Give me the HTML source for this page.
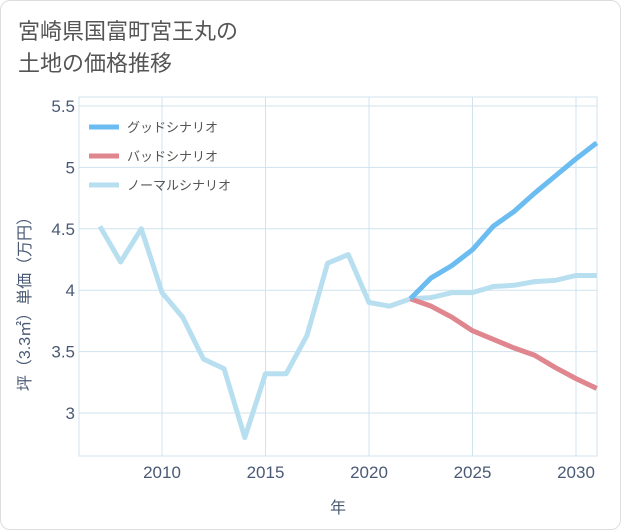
<!DOCTYPE html>
<html><head><meta charset="utf-8">
<style>
html,body{margin:0;padding:0;background:#fff;}
body{width:621px;height:530px;overflow:hidden;font-family:"Liberation Sans","Noto Sans CJK JP",sans-serif;}
.card{position:absolute;left:0;top:0;width:619px;height:528px;border:1px solid #ddd;border-radius:10px;background:#fff;}
.title{position:absolute;left:18px;top:16px;font-size:22px;line-height:32px;color:#555;}
</style></head><body>
<div class="card"></div>
<div class="title">宮崎県国富町宮王丸の<br>土地の価格推移</div>
<svg id="chart" width="621" height="530" style="position:absolute;left:0;top:0"></svg>
<script>
const years=[2007,2008,2009,2010,2011,2012,2013,2014,2015,2016,2017,2018,2019,2020,2021,2022,2023,2024,2025,2026,2027,2028,2029,2030,2031];
const normalValues=[4.52,4.23,4.50,3.98,3.78,3.44,3.36,2.80,3.32,3.32,3.63,4.22,4.29,3.90,3.87,3.93,3.94,3.98,3.98,4.03,4.04,4.07,4.08,4.12,4.12];
const forecastYears=[2022,2023,2024,2025,2026,2027,2028,2029,2030,2031];
const goodValues=[3.93,4.10,4.20,4.33,4.52,4.64,4.79,4.93,5.07,5.20];
const badValues=[3.93,3.87,3.78,3.67,3.60,3.53,3.47,3.37,3.28,3.20];
const xTicks=[2010,2015,2020,2025,2030];
const yTicks=[3,3.5,4,4.5,5,5.5];
const yTickLabels=["3","3.5","4","4.5","5","5.5"];
const legendLabels=["グッドシナリオ","バッドシナリオ","ノーマルシナリオ"];
const colors=["#6bbcf0","#e0868e","#b8dff0"];
const L=79,R=597,T=97,B=456;
const x=v=>162+(v-2010)*(576-162)/20;
const y=v=>413-(v-3)*(413-106)/2.5;
const NS="http://www.w3.org/2000/svg";
const svg=document.getElementById('chart');
function mk(t,a,p){const e=document.createElementNS(NS,t);for(const k in a)e.setAttribute(k,a[k]);(p||svg).appendChild(e);return e;}
const gridG=mk('g',{});


mk('rect',{x:L,y:T,width:R-L,height:B-T,fill:'none',stroke:'#cfe3ee'},gridG);
xTicks.forEach(t=>{
  mk('line',{x1:x(t),x2:x(t),y1:T,y2:B,stroke:'#cfe3ee'},gridG);
  const tx=mk('text',{x:x(t),y:B+22,'text-anchor':'middle','font-size':17,fill:'#4a5a75'});
  tx.textContent=t;
  
  
});
yTicks.forEach((t,i)=>{
  mk('line',{x1:L,x2:R,y1:y(t),y2:y(t),stroke:'#cfe3ee'},gridG);
  const tx=mk('text',{x:L-4,y:y(t)+6,'text-anchor':'end','font-size':17,fill:'#4a5a75'});
  tx.textContent=yTickLabels[i];
  
  
});
const xt=mk('text',{x:338,y:513,'text-anchor':'middle','font-size':16,fill:'#4a5a75'});
xt.textContent='年';


const yt=mk('text',{x:0,y:0,transform:'translate(30,300) rotate(-90)','text-anchor':'middle','font-size':16,fill:'#4a5a75'});
yt.textContent='坪（3.3㎡）単価（万円）';


function line(xs,vs,c,name){
  const p=mk('polyline',{points:xs.map((t,i)=>x(t)+','+y(vs[i])).join(' '),fill:'none',stroke:c,'stroke-width':5,'stroke-linejoin':'round'});
  
  
}
line(years,normalValues,colors[2],'normal-scenario-line');
line(forecastYears,badValues,colors[1],'bad-scenario-line');
line(forecastYears,goodValues,colors[0],'good-scenario-line');
legendLabels.forEach((lab,i)=>{
  const g=mk('g',{});
  
  
  const yy=127+i*29;
  mk('line',{x1:89,x2:119,y1:yy,y2:yy,stroke:colors[i],'stroke-width':5},g);
  const tx=mk('text',{x:127,y:yy+5,'font-size':13,fill:'#555'},g);
  tx.textContent=lab;
});
</script>
</body></html>
